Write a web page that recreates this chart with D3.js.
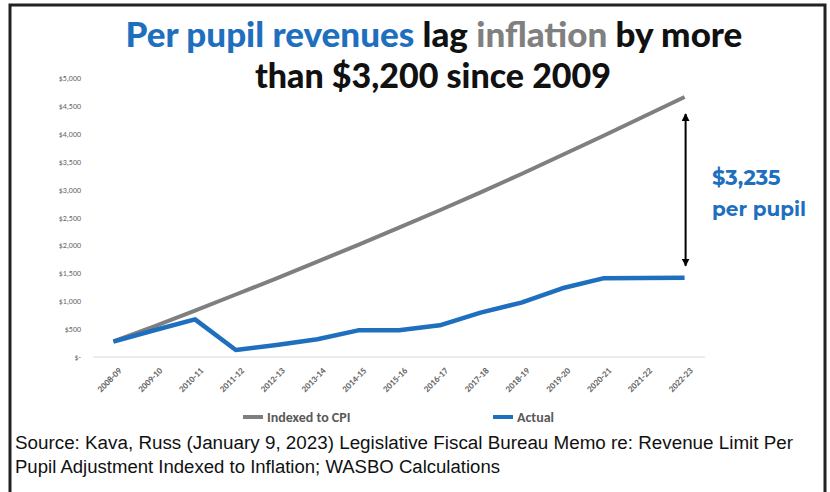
<!DOCTYPE html>
<meta charset="utf-8">
<script src="https://d3js.org/d3.v7.min.js"></script>
<style>
  body { margin: 0; background: #fff; }
</style>
<div id="my_dataviz"></div>
<script>
    // data
    var years = ["2008-09", "2009-10", "2010-11", "2011-12", "2012-13", "2013-14", "2014-15",
        "2015-16", "2016-17", "2017-18", "2018-19", "2019-20", "2020-21", "2021-22", "2022-23"];
    var cpi = [280, 550, 830, 1120, 1410, 1710, 2010, 2320, 2630, 2950, 3280, 3620, 3960, 4310, 4660];
    var actual = [276, 480, 675, 125, 215, 317, 478, 478, 568, 795, 975, 1231, 1410, 1415, 1420];
    var yTicks = [0, 500, 1000, 1500, 2000, 2500, 3000, 3500, 4000, 4500, 5000];

    var W = 830, H = 492;
    var svg = d3.select("#my_dataviz").append("svg")
        .attr("width", W).attr("height", H);

    // frame
    svg.append("path")
        .attr("d", "M10," + H + "V5H825V" + H)
        .attr("fill", "none").attr("stroke", "#222").attr("stroke-width", 3);

    // scales
    var x = d3.scalePoint().domain(years).range([93, 705]).padding(0.5);
    var y = d3.scaleLinear().domain([0, 5000]).range([357, 78]);

    // y axis labels only
    var yAxis = svg.append("g")
        .attr("transform", "translate(84,0)")
        .call(d3.axisLeft(y).tickValues(yTicks).tickSize(0)
            .tickFormat(function (d) { return d === 0 ? "$-" : "$" + d3.format(",")(d); }));
    yAxis.select(".domain").remove();
    yAxis.selectAll("text").attr("font-family", "Carlito, 'Liberation Sans', sans-serif")
        .attr("font-size", 8).attr("fill", "#666");

    // baseline
    svg.append("line").attr("x1", 93).attr("x2", 705).attr("y1", y(0)).attr("y2", y(0))
        .attr("stroke", "#d9d9d9").attr("stroke-width", 1);

    // x labels
    var xAxis = svg.append("g")
        .attr("transform", "translate(0," + (y(0) + 4) + ")")
        .call(d3.axisBottom(x).tickSize(0));
    xAxis.select(".domain").remove();
    xAxis.selectAll("text")
        .attr("font-family", "Carlito, 'Liberation Sans', sans-serif")
        .attr("font-size", 9).attr("font-weight", "bold").attr("fill", "#666")
        .attr("text-anchor", "end")
        .attr("dy", "0.35em")
        .attr("transform", "translate(4,6) rotate(-45)");

    // lines
    var line = d3.line()
        .x(function (d, i) { return x(years[i]); })
        .y(function (d) { return y(d); });

    svg.append("path").datum(cpi)
        .attr("d", line).attr("fill", "none")
        .attr("stroke", "#7f7f7f").attr("stroke-width", 4);

    svg.append("path").datum(actual)
        .attr("d", line).attr("fill", "none")
        .attr("stroke", "#1f6fbf").attr("stroke-width", 4.5)
        .attr("stroke-linejoin", "round");

    // gap arrow
    var ax = x("2022-23") + 1;
    var defs = svg.append("defs");
    defs.append("marker").attr("id", "tip")
        .attr("viewBox", "0 0 10 10").attr("refX", 9).attr("refY", 5)
        .attr("markerWidth", 4).attr("markerHeight", 4).attr("orient", "auto-start-reverse")
        .append("path").attr("d", "M0,0L10,5L0,10z").attr("fill", "#000");
    svg.append("line")
        .attr("x1", ax).attr("x2", ax)
        .attr("y1", y(4660) + 17).attr("y2", y(1420) - 12)
        .attr("stroke", "#000").attr("stroke-width", 2)
        .attr("marker-start", "url(#tip)").attr("marker-end", "url(#tip)");

    var note = svg.append("text")
        .attr("font-family", "Montserrat, 'Open Sans', sans-serif")
        .attr("font-weight", "bold").attr("font-size", 20).attr("fill", "#1f6fbf");
    note.append("tspan").attr("x", 712).attr("y", 185).attr("font-size", 21).text("$3,235");
    note.append("tspan").attr("x", 712).attr("y", 216).text("per pupil");

    // title
    var title = svg.append("text")
        .attr("text-anchor", "middle")
        .attr("font-family", "Lato, 'DejaVu Sans', sans-serif")
        .attr("font-weight", 900).attr("font-size", 35);
    var t1 = title.append("tspan").attr("x", 434).attr("y", 47);
    t1.append("tspan").attr("fill", "#1f6fbf").text("Per pupil revenues");
    t1.append("tspan").attr("fill", "#111").text(" lag ");
    t1.append("tspan").attr("fill", "#808080").text("inflation");
    t1.append("tspan").attr("fill", "#111").text(" by more");
    title.append("tspan").attr("x", 433).attr("y", 88).attr("fill", "#111")
        .attr("font-size", 34)
        .text("than $3,200 since 2009");

    // legend
    var legend = [
        { name: "Indexed to CPI", color: "#7f7f7f", x: 243 },
        { name: "Actual", color: "#1f6fbf", x: 493 }
    ];
    legend.forEach(function (d) {
        svg.append("line").attr("x1", d.x).attr("x2", d.x + 20).attr("y1", 417).attr("y2", 417)
            .attr("stroke", d.color).attr("stroke-width", 4);
        svg.append("text").attr("x", d.x + 24).attr("y", 422)
            .attr("font-family", "Carlito, 'Liberation Sans', sans-serif")
            .attr("font-weight", "bold").attr("font-size", 14).attr("fill", "#595959")
            .text(d.name);
    });

    // source
    var src = svg.append("text")
        .attr("font-family", "'Liberation Sans', Arial, sans-serif")
        .attr("font-size", 18).attr("fill", "#111");
    src.append("tspan").attr("x", 15).attr("y", 449)
        .attr("textLength", 778).attr("lengthAdjust", "spacingAndGlyphs")
        .text("Source: Kava, Russ (January 9, 2023) Legislative Fiscal Bureau Memo re: Revenue Limit Per");
    src.append("tspan").attr("x", 15).attr("y", 473)
        .attr("textLength", 485).attr("lengthAdjust", "spacingAndGlyphs")
        .text("Pupil Adjustment Indexed to Inflation; WASBO Calculations");
</script>
